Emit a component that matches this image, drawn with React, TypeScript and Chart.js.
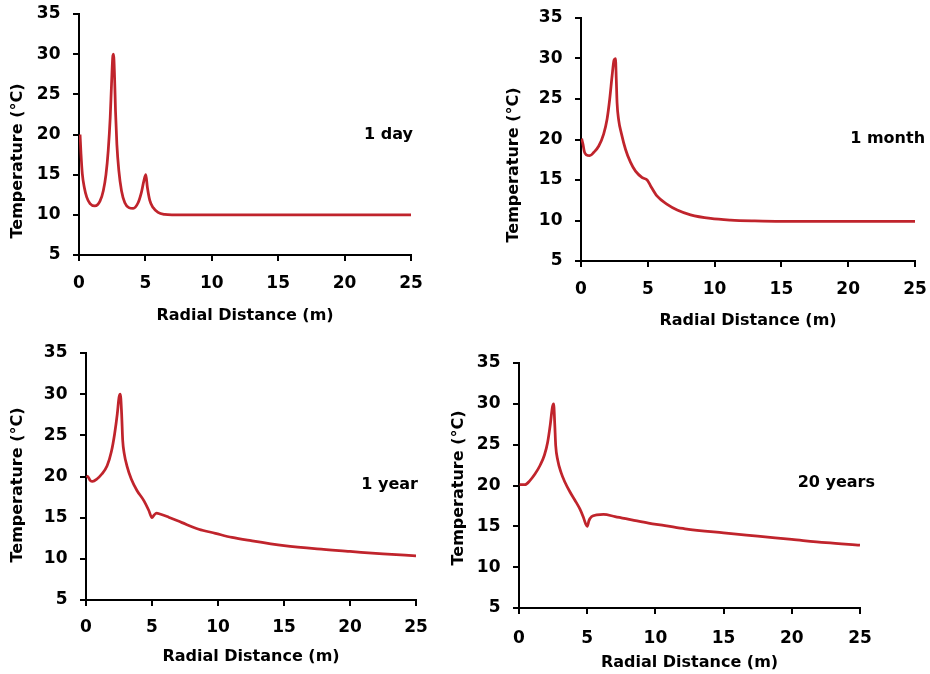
import React, { useEffect, useRef } from 'react';
import { Chart, registerables } from 'chart.js';

Chart.register(...registerables);

const FONT = "'DejaVu Sans', sans-serif";
const LINE_COLOR = '#C0242C';

// ---- data (radial distance in m, temperature in °C) ----
const dayX = [0.08, 0.15, 0.25, 0.4, 0.58, 0.83, 1.2, 1.58, 1.83, 2.03, 2.2, 2.35, 2.45, 2.55, 2.6, 2.68, 2.75, 2.85, 3.0, 3.2, 3.45, 3.75, 4.08, 4.45, 4.7, 4.88, 5.03, 5.15, 5.33, 5.58, 5.95, 6.45, 7.0, 8, 10, 15, 20, 25];
const dayY = [20.0, 17.6, 15.1, 13.4, 12.2, 11.4, 11.1, 11.7, 13.0, 15.0, 18.0, 22.1, 26.3, 29.8, 30.0, 27.1, 22.9, 18.8, 15.5, 13.0, 11.5, 10.9, 10.8, 11.5, 12.8, 14.2, 15.0, 13.4, 11.8, 10.9, 10.3, 10.05, 10.0, 10.0, 10.0, 10.0, 10.0, 10.0];

const monthX = [0.05, 0.15, 0.25, 0.4, 0.65, 0.95, 1.33, 1.7, 1.95, 2.15, 2.33, 2.47, 2.58, 2.64, 2.7, 2.82, 3.03, 3.33, 3.7, 4.08, 4.58, 4.95, 5.2, 5.7, 6.45, 7.2, 8.2, 9.7, 11.2, 13, 15, 20, 25];
const monthY = [20.1, 19.4, 18.5, 18.1, 18.0, 18.4, 19.2, 20.7, 22.5, 25.0, 27.9, 29.8, 30.0, 27.5, 24.5, 22.4, 20.7, 18.8, 17.2, 16.1, 15.3, 15.0, 14.3, 13.0, 12.0, 11.3, 10.7, 10.25, 10.05, 9.95, 9.9, 9.9, 9.9];

const yearX = [0.05, 0.2, 0.33, 0.5, 0.83, 1.2, 1.6, 1.92, 2.17, 2.37, 2.5, 2.6, 2.7, 2.78, 2.9, 3.1, 3.43, 3.86, 4.37, 4.75, 5.0, 5.15, 5.35, 5.6, 6.26, 7.27, 8.54, 9.8, 11.06, 12.5, 15, 17.5, 20, 22.5, 25];
const yearY = [20.1, 19.85, 19.5, 19.4, 19.7, 20.3, 21.3, 23.0, 25.2, 27.6, 29.6, 30.0, 27.6, 24.4, 22.75, 21.3, 19.7, 18.3, 17.1, 15.9, 15.0, 15.3, 15.55, 15.45, 15.06, 14.4, 13.6, 13.1, 12.6, 12.2, 11.6, 11.2, 10.9, 10.6, 10.37];

const yearsX = [0.05, 0.44, 0.8, 1.17, 1.54, 1.86, 2.1, 2.3, 2.45, 2.54, 2.62, 2.69, 2.84, 3.08, 3.37, 3.74, 4.1, 4.47, 4.72, 4.89, 5.01, 5.13, 5.33, 5.7, 6.19, 7.04, 8.26, 9.49, 10.7, 12.18, 15, 17.5, 20, 22.5, 25];
const yearsY = [20.1, 20.1, 20.6, 21.4, 22.45, 23.7, 25.3, 27.55, 29.6, 30.0, 27.55, 24.9, 23.1, 21.6, 20.4, 19.2, 18.2, 17.1, 16.1, 15.3, 15.0, 15.7, 16.2, 16.4, 16.45, 16.2, 15.8, 15.4, 15.1, 14.7, 14.2, 13.8, 13.4, 13.0, 12.7];

const panelLabels = ['1 day', '1 month', '1 year', '20 years'];
const xAxisTitle = 'Radial Distance (m)';
const yAxisTitle = 'Temperature (°C)';
const xRange = [0, 25];
const yRange = [5, 35];
const tickStep = 5;

// ---- layout (page pixels) ----
type Panel = {
  label: string;
  xs: number[];
  ys: number[];
  box: { left: number; top: number; width: number; height: number };
  axis: { l: number; r: number; t: number; b: number };
  yTitle: { x: number; y: number };
  xTitleMid: number;
  xTickPad: number;
  labelAt: { x: number; y: number };
};

const panels: Panel[] = [
  {
    label: panelLabels[0], xs: dayX, ys: dayY,
    box: { left: 0, top: 0, width: 440, height: 330 },
    axis: { l: 79, r: 411, t: 14, b: 255 },
    yTitle: { x: 18, y: 161 }, xTitleMid: 316, xTickPad: 12.8,
    labelAt: { x: 25.15, y: 19.9 },
  },
  {
    label: panelLabels[1], xs: monthX, ys: monthY,
    box: { left: 470, top: 0, width: 460, height: 335 },
    axis: { l: 581, r: 915, t: 18, b: 261 },
    yTitle: { x: 513.5, y: 165 }, xTitleMid: 321, xTickPad: 12,
    labelAt: { x: 25.75, y: 20.05 },
  },
  {
    label: panelLabels[2], xs: yearX, ys: yearY,
    box: { left: 0, top: 335, width: 440, height: 339 },
    axis: { l: 86, r: 416, t: 353, b: 600 },
    yTitle: { x: 18, y: 485 }, xTitleMid: 657, xTickPad: 11,
    labelAt: { x: 25.15, y: 19.0 },
  },
  {
    label: panelLabels[3], xs: yearsX, ys: yearsY,
    box: { left: 440, top: 345, width: 490, height: 329 },
    axis: { l: 519, r: 860, t: 363, b: 608 },
    yTitle: { x: 458.5, y: 488 }, xTitleMid: 663, xTickPad: 14,
    labelAt: { x: 26.1, y: 20.3 },
  },
];

const yTitlePlugin = {
  id: 'yTitle',
  afterDraw(chart: any, _args: any, opts: any) {
    if (!opts || !opts.text) return;
    const ctx = chart.ctx as CanvasRenderingContext2D;
    ctx.save();
    ctx.font = `bold 16px ${FONT}`;
    ctx.fillStyle = '#000';
    ctx.textAlign = 'center';
    ctx.textBaseline = 'middle';
    ctx.translate(opts.x, opts.y);
    ctx.rotate(-Math.PI / 2);
    ctx.fillText(opts.text, 0, 0);
    ctx.restore();
  },
};

const panelLabelPlugin = {
  id: 'panelLabel',
  afterDraw(chart: any, _args: any, opts: any) {
    if (!opts || !opts.text) return;
    const ctx = chart.ctx as CanvasRenderingContext2D;
    const px = chart.scales.x.getPixelForValue(opts.x);
    const py = chart.scales.y.getPixelForValue(opts.y);
    ctx.save();
    ctx.font = `bold 16px ${FONT}`;
    ctx.fillStyle = '#000';
    ctx.textAlign = 'right';
    ctx.textBaseline = 'middle';
    ctx.fillText(opts.text, px, py);
    ctx.restore();
  },
};

function PanelChart({ p }: { p: Panel }) {
  const ref = useRef<HTMLCanvasElement | null>(null);

  useEffect(() => {
    const canvas = ref.current;
    if (!canvas) return;
    const { box, axis } = p;
    const yScaleWidth = axis.l - box.left;
    const xScaleHeight = box.top + box.height - axis.b;
    const xTitlePadBottom = box.top + box.height - 9.6 - p.xTitleMid;

    const chart = new Chart(canvas, {
      type: 'line',
      data: {
        datasets: [
          {
            data: p.xs.map((x, i) => ({ x, y: p.ys[i] })),
            borderColor: LINE_COLOR,
            borderWidth: 2.75,
            pointRadius: 0,
            fill: false,
            cubicInterpolationMode: 'monotone',
          },
        ],
      },
      options: {
        animation: false,
        responsive: false,
        devicePixelRatio: 1,
        layout: {
          padding: {
            left: 0,
            top: axis.t - box.top,
            right: box.left + box.width - axis.r,
            bottom: 0,
          },
        },
        plugins: {
          legend: { display: false },
          tooltip: { enabled: false },
          yTitle: { text: yAxisTitle, x: p.yTitle.x - box.left, y: p.yTitle.y - box.top },
          panelLabel: { text: p.label, x: p.labelAt.x, y: p.labelAt.y },
        } as any,
        scales: {
          x: {
            type: 'linear',
            min: xRange[0],
            max: xRange[1],
            afterFit(scale: any) {
              scale.height = xScaleHeight;
              scale.paddingLeft = 0;
              scale.paddingRight = 0;
            },
            ticks: {
              stepSize: tickStep,
              autoSkip: false,
              maxRotation: 0,
              padding: p.xTickPad,
              color: '#000',
              font: { family: FONT, size: 17, weight: 'bold' },
            },
            grid: {
              drawOnChartArea: false,
              drawTicks: true,
              tickLength: 6,
              color: '#000',
              lineWidth: 2,
            },
            border: { display: true, color: '#000', width: 2 },
            title: {
              display: true,
              text: xAxisTitle,
              color: '#000',
              font: { family: FONT, size: 16, weight: 'bold' },
              padding: { top: 0, bottom: xTitlePadBottom },
            },
          },
          y: {
            type: 'linear',
            min: yRange[0],
            max: yRange[1],
            afterFit(scale: any) {
              scale.width = yScaleWidth;
              scale.paddingTop = 0;
              scale.paddingBottom = 0;
            },
            ticks: {
              stepSize: tickStep,
              padding: 12.5,
              color: '#000',
              font: { family: FONT, size: 17, weight: 'bold' },
            },
            grid: {
              drawOnChartArea: false,
              drawTicks: true,
              tickLength: 6,
              color: '#000',
              lineWidth: 2,
            },
            border: { display: true, color: '#000', width: 2 },
          },
        },
      } as any,
      plugins: [yTitlePlugin, panelLabelPlugin],
    });
    return () => chart.destroy();
  }, [p]);

  return (
    <div
      style={{
        position: 'absolute',
        left: p.box.left,
        top: p.box.top,
        width: p.box.width,
        height: p.box.height,
      }}
    >
      <canvas
        ref={ref}
        width={p.box.width}
        height={p.box.height}
        style={{ display: 'block', width: p.box.width, height: p.box.height }}
      />
    </div>
  );
}

export default function App() {
  return (
    <div
      style={{
        position: 'absolute',
        left: 0,
        top: 0,
        width: 930,
        height: 674,
        background: '#fff',
        overflow: 'hidden',
      }}
    >
      {panels.map((p) => (
        <PanelChart key={p.label} p={p} />
      ))}
    </div>
  );
}
